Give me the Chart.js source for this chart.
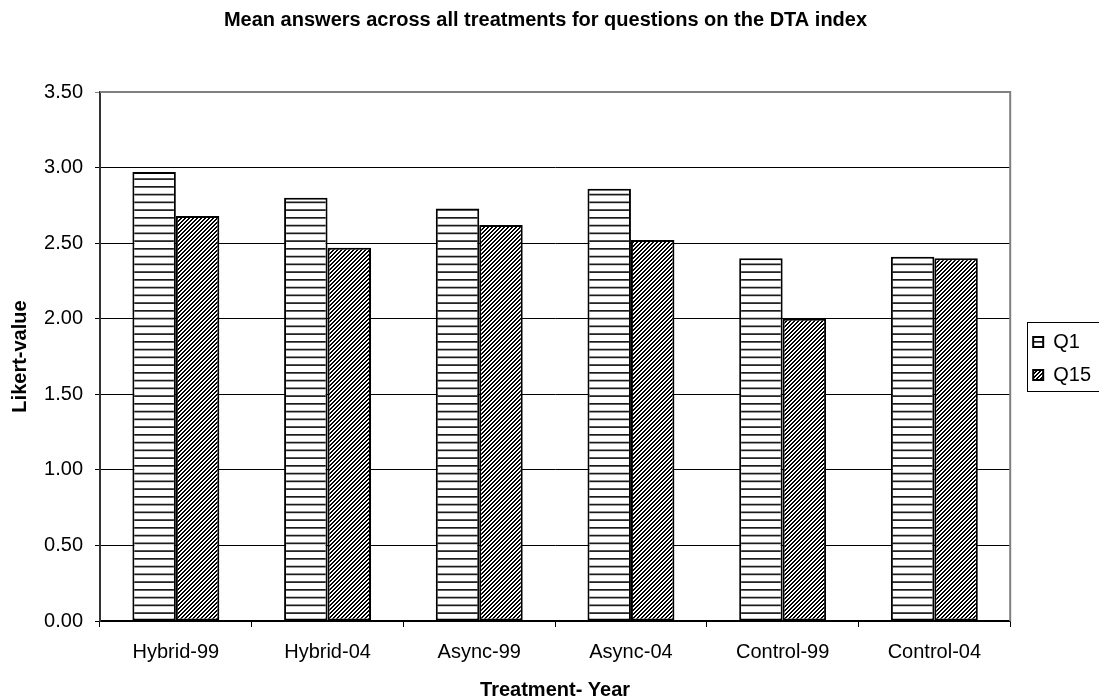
<!DOCTYPE html>
<html>
<head>
<meta charset="utf-8">
<script src="https://cdn.jsdelivr.net/npm/chart.js@4"></script>
<style>
  html, body { margin: 0; padding: 0; background: #ffffff; }
  #wrap { width: 1099px; height: 700px; }
</style>
</head>
<body>
<div id="wrap"><canvas id="c" width="1099" height="700"></canvas></div>
<script>
// Mean Likert answers per treatment/year
const categories = ['Hybrid-99', 'Hybrid-04', 'Async-99', 'Async-04', 'Control-99', 'Control-04'];
const q1Values = [2.97, 2.80, 2.73, 2.86, 2.40, 2.41];
const q15Values = [2.68, 2.47, 2.62, 2.52, 2.00, 2.40];
const yTickValues = [0, 0.5, 1, 1.5, 2, 2.5, 3, 3.5];
const seriesNames = ['Q1', 'Q15'];

const FONT = "'Liberation Sans', Arial, sans-serif";
const LEGEND_SHIFT_X = 10;

// Horizontal-line fill
function makeHorizontalPattern() {
  const c = document.createElement('canvas');
  c.width = 4; c.height = 31;
  const g = c.getContext('2d');
  g.fillStyle = '#ffffff';
  g.fillRect(0, 0, 4, 31);
  g.fillStyle = '#1a1a1a';
  for (let i = 0; i < 4; i++) {
    g.fillRect(0, i * 7.75, 4, 1.7);
  }
  return g.createPattern(c, 'repeat');
}

// Upward diagonal fill
function makeDiagonalPattern() {
  const n = 4;
  const c = document.createElement('canvas');
  c.width = n; c.height = n;
  const g = c.getContext('2d');
  const img = g.createImageData(n, n);
  for (let y = 0; y < n; y++) {
    for (let x = 0; x < n; x++) {
      const k = (x + y) % n;
      const v = (k === 2 || k === 3) ? 0 : 255;
      const p = (y * n + x) * 4;
      img.data[p] = v; img.data[p + 1] = v; img.data[p + 2] = v; img.data[p + 3] = 255;
    }
  }
  g.putImageData(img, 0, 0);
  return g.createPattern(c, 'repeat');
}

const hPattern = makeHorizontalPattern();
const dPattern = makeDiagonalPattern();

// Gray frame on the top and right of the plot area
const plotFrame = {
  id: 'plotFrame',
  afterDatasetsDraw(chart) {
    const { ctx, chartArea: a } = chart;
    ctx.save();
    ctx.strokeStyle = '#808080';
    ctx.lineWidth = 2;
    ctx.beginPath();
    ctx.moveTo(a.left, a.top);
    ctx.lineTo(a.right, a.top);
    ctx.lineTo(a.right, a.bottom);
    ctx.stroke();
    ctx.restore();
  }
};

// Nudge the legend block a little away from the plot area
const legendNudge = {
  id: 'legendNudge',
  afterLayout(chart) {
    const lg = chart.legend;
    if (!lg) return;
    lg.left += LEGEND_SHIFT_X;
    lg.right += LEGEND_SHIFT_X;
  }
};

// Box around the legend entries
const legendFrame = {
  id: 'legendFrame',
  afterDraw(chart) {
    const lg = chart.legend;
    if (!lg || !lg.legendHitBoxes || !lg.legendHitBoxes.length) return;
    const hb = lg.legendHitBoxes;
    const x0 = Math.min(...hb.map(h => h.left)) - 6;
    const y0 = Math.min(...hb.map(h => h.top)) - 10;
    const x1 = chart.width + 2;
    const y1 = Math.max(...hb.map(h => h.top + h.height)) + 6;
    const ctx = chart.ctx;
    ctx.save();
    ctx.strokeStyle = '#000000';
    ctx.lineWidth = 1;
    ctx.strokeRect(Math.round(x0) + 0.5, Math.round(y0) + 0.5, Math.round(x1 - x0), Math.round(y1 - y0));
    ctx.restore();
  }
};

new Chart(document.getElementById('c'), {
  type: 'bar',
  data: {
    labels: categories,
    datasets: [
      {
        label: seriesNames[0],
        data: q1Values,
        backgroundColor: hPattern,
        borderColor: '#000000',
        borderWidth: 2,
        borderSkipped: false
      },
      {
        label: seriesNames[1],
        data: q15Values,
        backgroundColor: dPattern,
        borderColor: '#000000',
        borderWidth: 2,
        borderSkipped: false
      }
    ]
  },
  options: {
    responsive: false,
    animation: false,
    devicePixelRatio: 1,
    layout: { padding: { left: 0, right: 8, top: 0, bottom: 0 } },
    datasets: {
      bar: { categoryPercentage: 0.573, barPercentage: 1.0 }
    },
    plugins: {
      tooltip: { enabled: false },
      title: {
        display: true,
        text: 'Mean answers across all treatments for questions on the DTA index',
        color: '#000000',
        font: { family: FONT, size: 20, weight: 'bold', lineHeight: 1.2 },
        padding: { top: 8, bottom: 60 }
      },
      legend: {
        position: 'right',
        title: {
          display: true,
          text: ' ',
          font: { family: FONT, size: 13, lineHeight: 1 },
          padding: 2
        },
        labels: {
          color: '#000000',
          font: { family: FONT, size: 20 },
          boxWidth: 10,
          boxHeight: 10,
          padding: 13
        }
      }
    },
    scales: {
      x: {
        offset: true,
        afterFit(scale) { scale.height = 79; },
        grid: {
          offset: true,
          drawOnChartArea: false,
          drawTicks: true,
          tickLength: 6,
          color: '#000000'
        },
        border: { display: true, color: '#000000', width: 1.5 },
        ticks: {
          color: '#000000',
          font: { family: FONT, size: 20 },
          padding: 13,
          maxRotation: 0
        },
        title: {
          display: true,
          text: 'Treatment- Year',
          color: '#000000',
          font: { family: FONT, size: 20, weight: 'bold', lineHeight: 1.0 },
          padding: 0
        }
      },
      y: {
        min: 0,
        max: 3.5,
        afterFit(scale) { scale.width = 100; },
        afterBuildTicks(scale) { scale.ticks = yTickValues.map(v => ({ value: v })); },
        grid: {
          color: ctx => (ctx.tick && ctx.tick.value === 3.5) ? '#808080' : '#000000',
          lineWidth: 1,
          drawTicks: true,
          tickLength: 5
        },
        border: { display: true, color: '#333333', width: 2 },
        ticks: {
          color: '#000000',
          font: { family: FONT, size: 20 },
          padding: 12,
          callback: v => Number(v).toFixed(2)
        },
        title: {
          display: true,
          text: 'Likert-value',
          color: '#000000',
          font: { family: FONT, size: 20, weight: 'bold' },
          padding: { top: 8, bottom: 0 }
        }
      }
    }
  },
  plugins: [plotFrame, legendNudge, legendFrame]
});
</script>
</body>
</html>
